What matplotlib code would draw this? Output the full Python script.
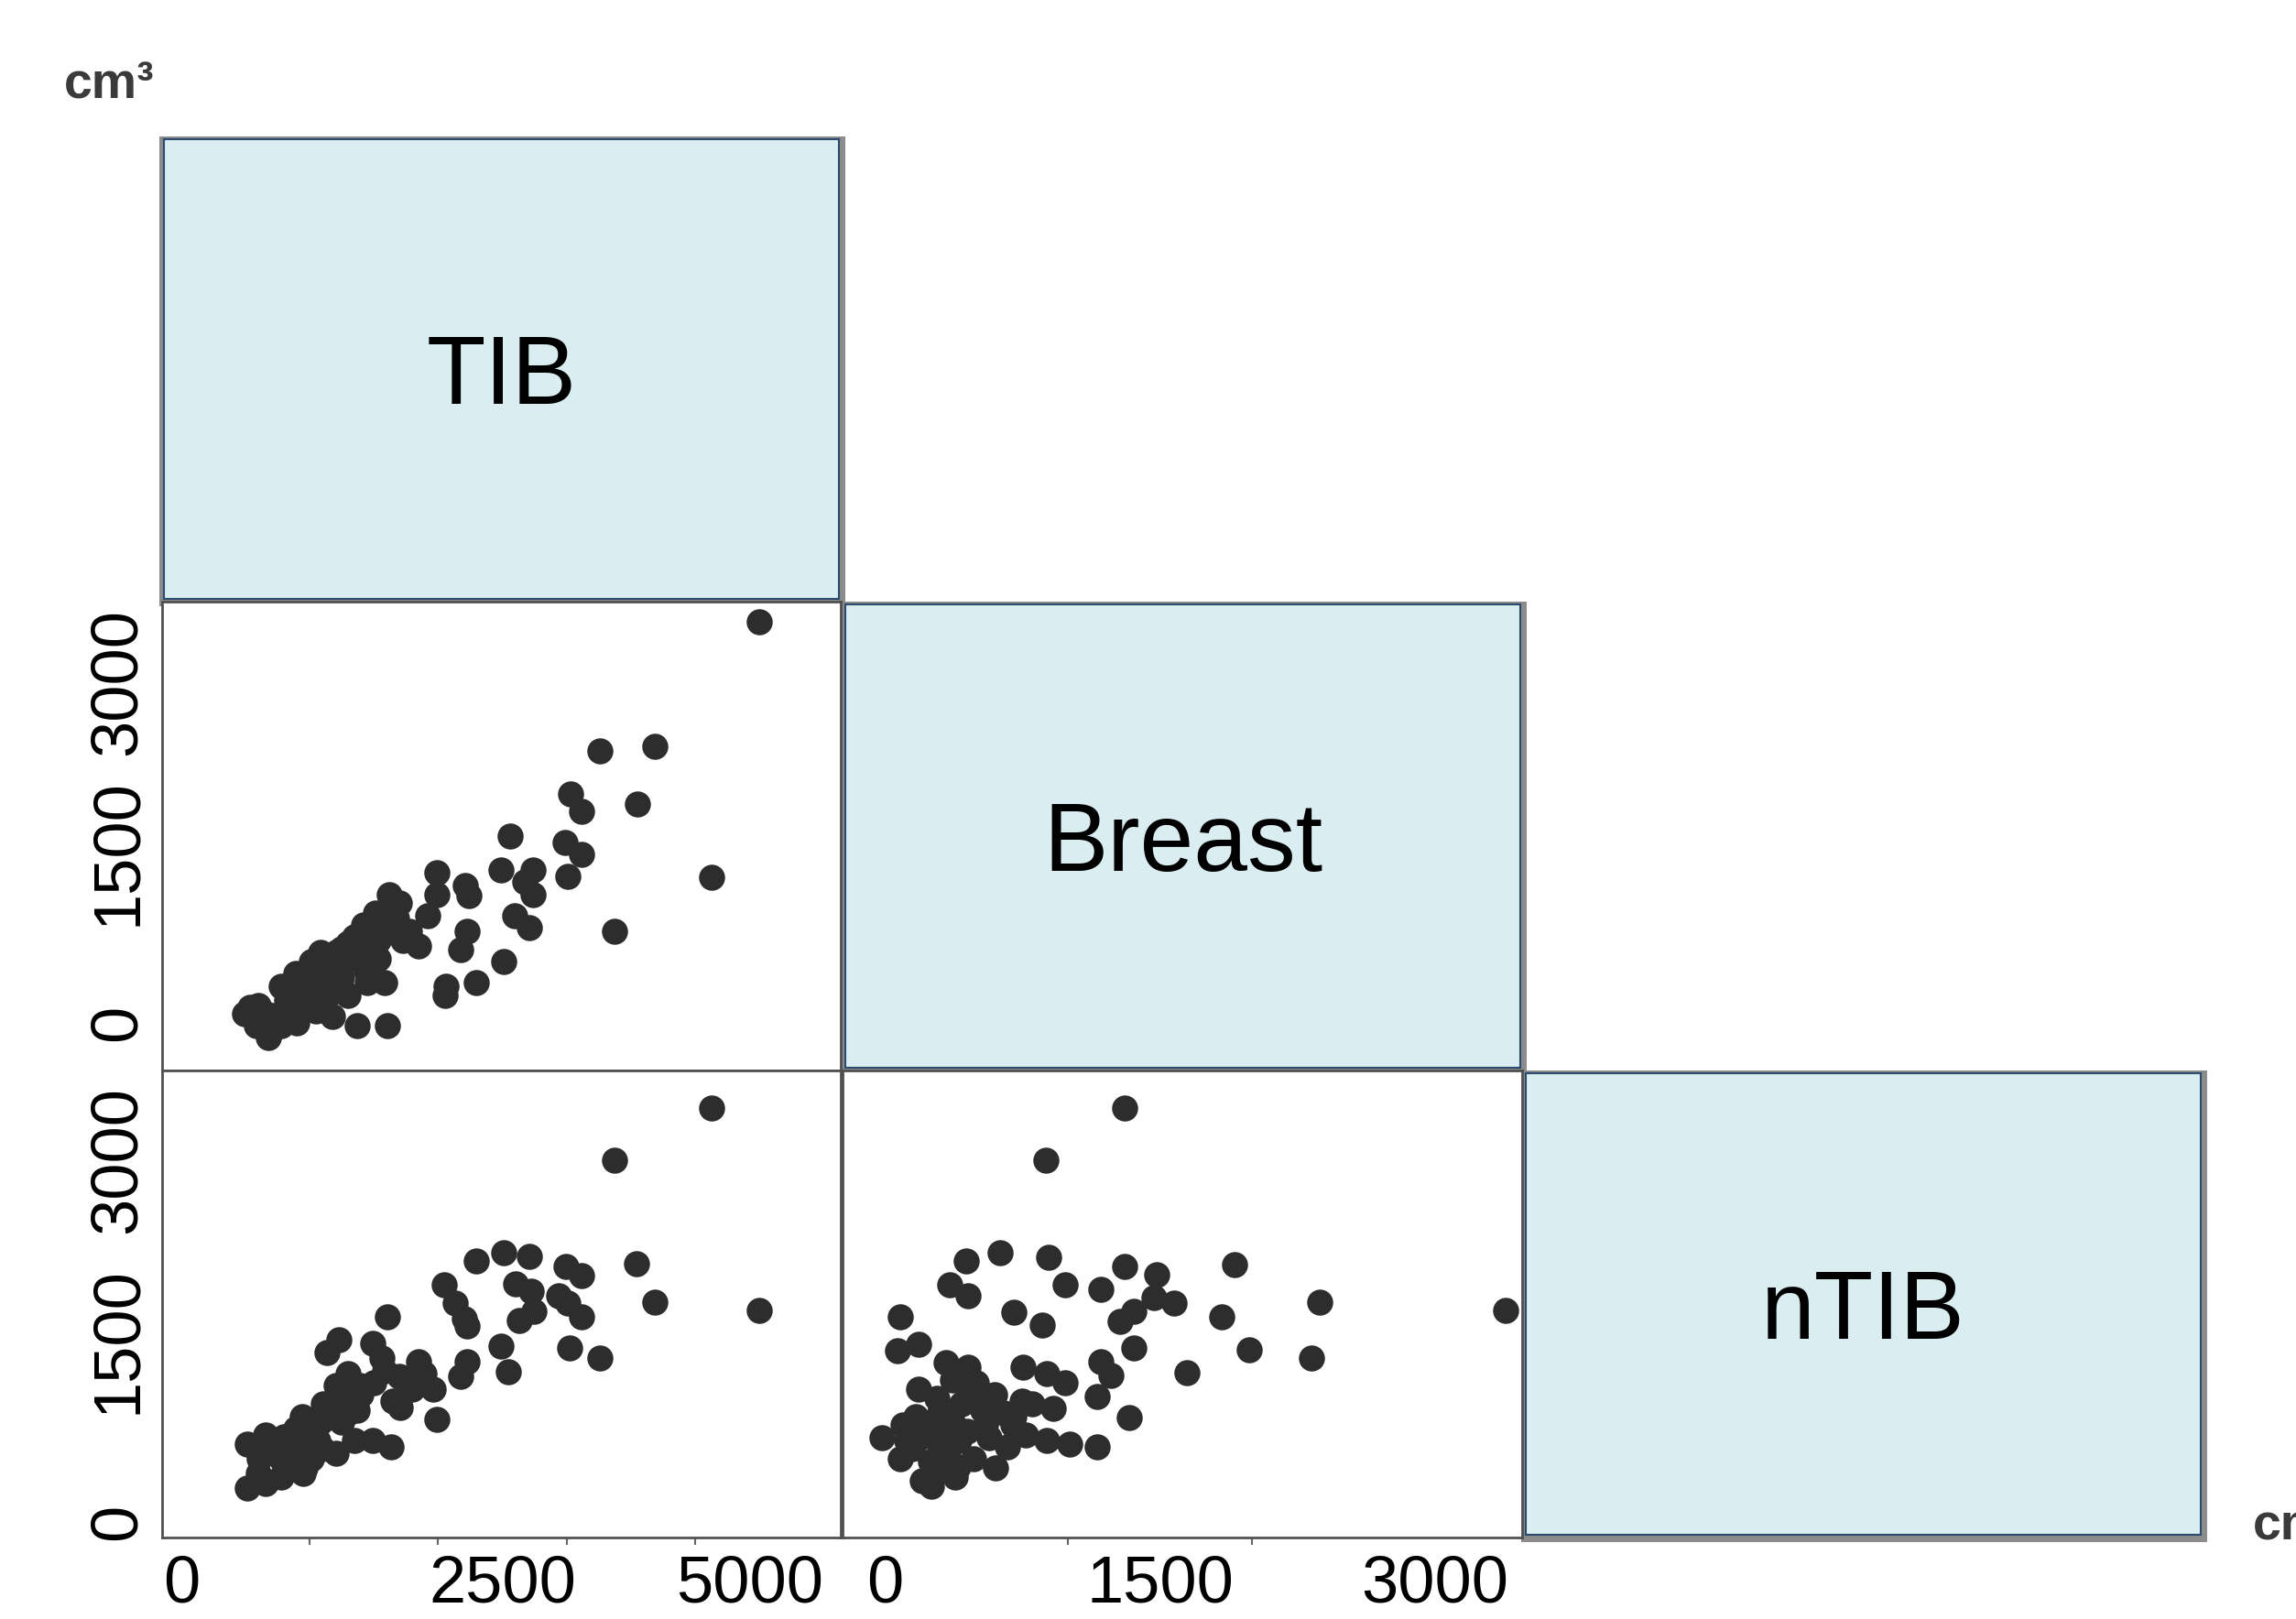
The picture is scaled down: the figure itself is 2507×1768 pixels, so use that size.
import matplotlib
matplotlib.use("Agg")
import matplotlib.pyplot as plt
from matplotlib.patches import Rectangle

# panel TIB (x) vs Breast (y)
tib_a = [4503, 3260, 3686, 3029, 3117, 3551, 4130, 3377, 2558, 2987, 3117, 3010,
         2487, 2737, 2677, 2737, 2594, 2712, 2510, 2225, 2177, 2296, 2059, 2055,
         1987, 1987, 2213, 2237, 1618, 1916, 1844, 1773, 1511, 1416, 1630, 1345,
         1202, 1011, 1582, 1368, 1606, 1440, 1249, 892, 774, 535, 488, 655, 583,
         678, 774, 916, 1059, 1178, 1011, 1131, 1297, 1368, 1535, 1202, 892, 845,
         1440, 1535, 1725, 1677, 1297, 1083,
         600, 720, 820, 950, 1000, 1100, 1150, 1250, 1300, 1400, 1480, 1550, 1650,
         1700, 1150, 1250, 1450, 700, 900, 1050]
breast_a = [3526, 2388, 2431, 2014, 1856, 1927, 1279, 804, 1639, 1585, 1477, 1289,
            1343, 1343, 1235, 1127, 940, 832, 536, 805, 644, 348, 321, 240,
            1316, 1127, 1208, 1114, 1127, 940, 671, 805, 966, 859, 832, 752,
            617, 536, 348, -28, -28, 456, 402, 429, 321, 133, 79, 79, -28,
            -136, -28, 79, 133, 52, 240, 348, 240, 563, 563, 482, 240, 133,
            671, 724, 724, 913, 563, 617,
            150, 60, 200, 300, 420, 480, 560, 650, 700, 760, 800, 880, 1000,
            1050, 250, 300, 350, -80, 0, 100]

# panel TIB (x) vs nTIB (y)
tib_b = [4130, 3377, 4503, 3545, 3688, 2296, 2510, 2712, 2998, 3117, 2046, 2130,
         2201, 2225, 2605, 2724, 2748, 2630, 2939, 3010, 3117, 2487, 2546, 3022,
         3260, 2225, 2177, 1606, 1226, 1131, 1488, 1559, 1582, 1844, 1892, 1963,
         1987, 1773, 1702, 1630, 1488, 1368, 1392, 1202, 1106, 940, 1249, 1059,
         964, 1202, 1345, 869, 655, 512, 607, 774, 512, 655, 774, 892, 1083,
         1297, 1011,
         600, 700, 800, 900, 1000, 1150, 1250, 1400, 1500, 1650, 1700, 1800, 1100,
         1300, 850, 950]
ntib_b = [3429, 2995, 1748, 2138, 1821, 2163, 2227, 2201, 2113, 2037, 1961, 1809,
          1682, 1619, 1974, 1910, 1745, 1669, 1872, 1809, 1695, 1454, 1239, 1442,
          1353, 1328, 1202, 1695, 1505, 1404, 1479, 1353, 1252, 1328, 1227, 1100,
          847, 1126, 948, 619, 670, 923, 1126, 1126, 974, 872, 822, 670,
          442, 568, 670, 619, 720, 644, 518, 366, 277, 315, 518, 771, 822,
          1227, 518,
          400, 600, 700, 650, 750, 900, 1000, 1050, 1150, 1000, 1200, 1100, 600,
          900, 500, 400]

# panel Breast (x) vs nTIB (y)
breast_c = [1310, 880, 3384, 1906, 2370, 2328, 1988, 1839, 1645, 444, 627, 894,
            1310, 1484, 353, 453, 985, 1177, 702, 860, 86, 70, 186, 1468, 1576,
            1359, 1285, 1359, 1177, 1235, 1160, 1334, 1160, 1010, 885, 752, 885,
            985, 919, 802, 702, 586, 453, 336, 186, 286, 419, 536, 170, -13, 86,
            203, 286, 386, 270, 403, 569, 603, 486, 669, 769, 203, 369, 120, 320,
            253, 369, 469,
            100, 150, 250, 350, 450, 550, 650, 750, 300, 200, 400, 600, 500, 300,
            700]
ntib_c = [3429, 2995, 1748, 2127, 1815, 1354, 1427, 1698, 1232, 2163, 2227, 2189,
          2113, 2049, 1961, 1872, 1961, 1923, 1733, 1631, 1695, 1416, 1467, 1859, 1809,
          1745, 1657, 1442, 1328, 1214, 1037, 860, 619, 644, 670, 1277, 1227,
          1151, 936, 974, 872, 974, 1277, 1315, 1100, 1024, 974, 923, 872, 695, 518,
          340, 416, 366, 695, 670, 695, 442, 518, 619, 720, 796, 822, 670, 518,
          290, 1176, 1075,
          800, 600, 500, 600, 750, 800, 900, 1000, 900, 700, 450, 1050, 1150, 750,
          800]

names = ["TIB", "Breast", "nTIB"]
unit = "cm\u00b3"

W, H = 2507, 1768
plt.rcParams['font.family'] = ['Liberation Sans', 'DejaVu Sans']

fig = plt.figure(figsize=(W / 100, H / 100), dpi=100)


def panel(x0, y0, x1, y1):
    return fig.add_axes([x0 / W, 1 - y1 / H, (x1 - x0) / W, (y1 - y0) / H])


def diag_box(x0, y0, x1, y1, label):
    # grey drop shadow behind the light-blue box
    fig.add_artist(Rectangle(((x0 - 5) / W, 1 - (y1 + 8) / H), (x1 - x0 + 12) / W,
                             (y1 - y0 + 11) / H, transform=fig.transFigure,
                             facecolor="#8c8c8c", edgecolor="none", zorder=-1))
    ax = panel(x0, y0, x1, y1)
    ax.set_facecolor("#daedf1")
    ax.set_xticks([])
    ax.set_yticks([])
    for s in ax.spines.values():
        s.set_color("#2b4a6f")
        s.set_linewidth(1.5)
    ax.text(0.5, 0.48, label, transform=ax.transAxes, ha="center", va="center",
            fontsize=76, color="black")
    return ax


def scatter_panel(x0, y0, x1, y1, x, y, xlim, ylim):
    ax = panel(x0, y0, x1, y1)
    ax.plot(x, y, "o", ms=20.5, color="#2d2d2d", mec="none")
    ax.set_xlim(*xlim)
    ax.set_ylim(*ylim)
    ax.set_xticks([])
    ax.set_yticks([])
    for s in ax.spines.values():
        s.set_color("#505050")
        s.set_linewidth(2)
    return ax


tib_lim = (-152, 5137)
breast_ylim = (-423, 3706)
ntib_lim = (-133, 3740)
breast_xlim = (-230, 3475)

diag_box(179, 152, 916, 654, names[0])
diag_box(923, 660, 1660, 1166, names[1])
diag_box(1666, 1172, 2403, 1676, names[2])

ax10 = scatter_panel(177, 657, 918, 1169, tib_a, breast_a, tib_lim, breast_ylim)
ax20 = scatter_panel(177, 1169, 918, 1679, tib_b, ntib_b, tib_lim, ntib_lim)
ax21 = scatter_panel(920, 1169, 1662, 1679, breast_c, ntib_c, breast_xlim, ntib_lim)

tick_font = 52
for ax in (ax10, ax20):
    ax.set_yticks([0, 1500, 3000], labels=["0", "1500", "3000"], rotation=90,
                  va="center", fontsize=tick_font)
    ax.tick_params(axis="y", length=0, pad=10)

ax20.set_xticks([0, 2500, 5000], labels=["0", "2500", "5000"], fontsize=tick_font)
ax20.set_xticks(range(0, 5001, 1000), minor=True)
ax20.get_xticklabels()[2].set_horizontalalignment("right")
ax21.set_xticks([0, 1500, 3000], labels=["0", "1500", "3000"], fontsize=tick_font)
ax21.set_xticks(range(0, 3001, 1000), minor=True)
for ax in (ax20, ax21):
    ax.tick_params(axis="x", which="major", length=0, pad=13)
    ax.tick_params(axis="x", which="minor", length=6, width=1.5, color="#666666")

fig.text(70 / W, 1 - 107 / H, unit, ha="left", va="baseline", fontsize=40,
         fontweight="bold", color="#3a3a3a")
# the reference shows this unit label cut by the right edge
fig.text(2460 / W, 1 - 1681 / H, unit, ha="left", va="baseline", fontsize=40,
         fontweight="bold", color="#3a3a3a")

fig.savefig("out.png", dpi=100)
